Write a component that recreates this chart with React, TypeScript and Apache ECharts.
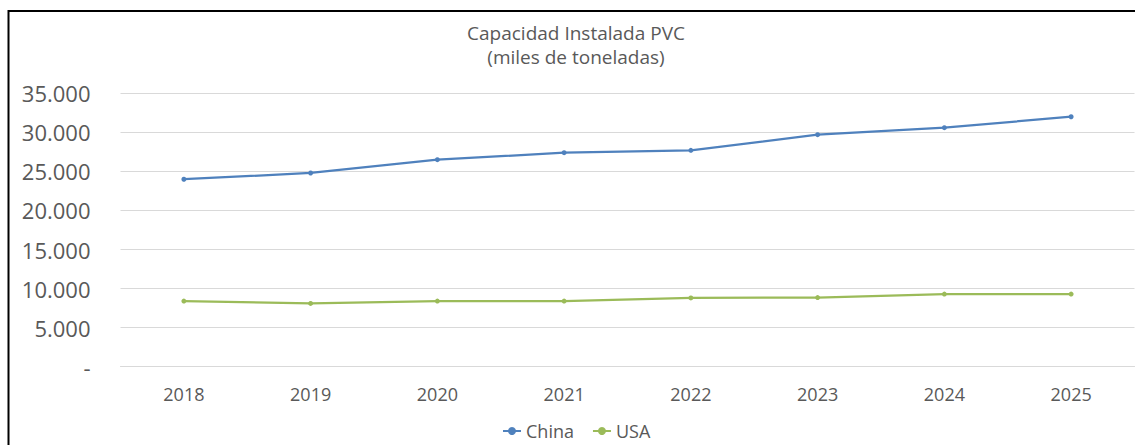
import React, { useEffect, useRef } from "react";
import * as echarts from "echarts";

const years = ["2018", "2019", "2020", "2021", "2022", "2023", "2024", "2025"];
const china = [24000, 24800, 26500, 27400, 27700, 29700, 30600, 32000];
const usa = [8400, 8100, 8400, 8400, 8800, 8850, 9300, 9300];
const titleLines = ["Capacidad Instalada PVC", "(miles de toneladas)"];

const FONT = "'Open Sans', 'Noto Sans', sans-serif";
const GREY = "#595959";

export default function App() {
  const ref = useRef<HTMLDivElement>(null);
  useEffect(() => {
    if (!ref.current) return;
    const chart = echarts.init(ref.current, undefined, { renderer: "svg" });
    chart.setOption({
      animation: false,
      backgroundColor: "#ffffff",
      title: {
        text: titleLines.join("\n"),
        left: 576,
        top: 21,
        padding: 0,
        textAlign: "center",
        textStyle: {
          fontFamily: FONT,
          fontSize: 19,
          fontWeight: "normal",
          color: GREY,
          lineHeight: 24,
        },
      },
      graphic: [
        {
          type: "rect",
          shape: { x: 8.5, y: 11, width: 2000, height: 2000 },
          style: { fill: "none", stroke: "#000", lineWidth: 2 },
          silent: true,
        },
      ],
      legend: {
        left: 497,
        top: 417,
        itemWidth: 18,
        itemHeight: 10,
        itemGap: 18,
        textStyle: { fontFamily: FONT, fontSize: 18, color: GREY },
        data: ["China", "USA"],
      },
      grid: { left: 120.5, right: 0.5, top: 93.3, bottom: 78.3, containLabel: false },
      xAxis: {
        type: "category",
        data: years,
        boundaryGap: true,
        axisLine: { show: true, lineStyle: { color: "#d9d9d9", width: 1 } },
        axisTick: { show: false },
        axisLabel: {
          fontFamily: FONT,
          fontSize: 18,
          color: GREY,
          margin: 18,
        },
      },
      yAxis: {
        type: "value",
        min: 0,
        max: 35000,
        interval: 5000,
        axisLine: { show: false },
        axisTick: { show: false },
        splitLine: { lineStyle: { color: "#d9d9d9", width: 1 } },
        axisLabel: {
          fontFamily: FONT,
          fontSize: 22,
          color: GREY,
          margin: 30,
          formatter: (v: number) =>
            v === 0 ? "-" : v.toString().replace(/\B(?=(\d{3})+(?!\d))/g, "."),
        },
      },
      series: [
        {
          name: "China",
          type: "line",
          data: china,
          symbol: "circle",
          symbolSize: 5,
          lineStyle: { color: "#4F81BD", width: 2.25 },
          itemStyle: { color: "#4F81BD" },
        },
        {
          name: "USA",
          type: "line",
          data: usa,
          symbol: "circle",
          symbolSize: 5,
          lineStyle: { color: "#9BBB59", width: 2.25 },
          itemStyle: { color: "#9BBB59" },
        },
      ],
    });
    return () => chart.dispose();
  }, []);
  return (
    <div
      ref={ref}
      style={{ position: "absolute", left: 0, top: 0, width: 1135, height: 445 }}
    />
  );
}
